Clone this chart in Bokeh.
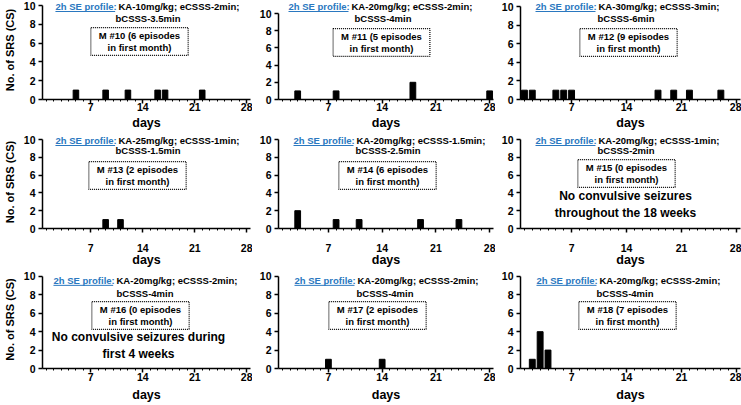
from bokeh.plotting import figure
from bokeh.layouts import gridplot
from bokeh.models import Range1d, FixedTicker, Label, ColumnDataSource
from bokeh.embed import file_html
from bokeh.resources import INLINE

# ---------------- data ----------------
mouse_ids = ["10", "11", "12", "13", "14", "15", "16", "17", "18"]
episodes = [6, 5, 9, 2, 6, 0, 0, 2, 7]
profile_line1 = [
    "KA-10mg/kg; eCSSS-2min;",
    "KA-20mg/kg; eCSSS-2min;",
    "KA-30mg/kg; eCSSS-3min;",
    "KA-25mg/kg; eCSSS-1min;",
    "KA-20mg/kg; eCSSS-1.5min;",
    "KA-20mg/kg; eCSSS-1min;",
    "KA-20mg/kg; eCSSS-2min;",
    "KA-20mg/kg; eCSSS-2min;",
    "KA-20mg/kg; eCSSS-2min;",
]
profile_line2 = [
    "bCSSS-3.5min", "bCSSS-4min", "bCSSS-6min",
    "bCSSS-1.5min", "bCSSS-2.5min", "bCSSS-2min",
    "bCSSS-4min", "bCSSS-4min", "bCSSS-4min",
]
m10_days = [5, 9, 12, 16, 17, 22]
m10_srs = [1, 1, 1, 1, 1, 1]
m11_days = [3, 8, 18, 28]
m11_srs = [1, 1, 2, 1]
m12_days = [1, 2, 5, 6, 7, 18, 20, 22, 26]
m12_srs = [1, 1, 1, 1, 1, 1, 1, 1, 1]
m13_days = [9, 11]
m13_srs = [1, 1]
m14_days = [3, 8, 11, 19, 24]
m14_srs = [2, 1, 1, 1, 1]
m15_days = []
m15_srs = []
m16_days = []
m16_srs = []
m17_days = [7, 14]
m17_srs = [1, 1]
m18_days = [2, 3, 4]
m18_srs = [1, 4, 2]
all_days = [m10_days, m11_days, m12_days, m13_days, m14_days, m15_days, m16_days, m17_days, m18_days]
all_srs = [m10_srs, m11_srs, m12_srs, m13_srs, m14_srs, m15_srs, m16_srs, m17_srs, m18_srs]
notes = {5: "No convulsive seizures\nthroughout the 18 weeks",
         6: "No convulsive seizures during\nfirst 4 weeks"}
x_ticks = [7, 14, 21, 28]
y_ticks = [0, 2, 4, 6, 8, 10]

# ---------------- layout constants (pixels) ----------------
FONT = "Liberation Sans"
BLUE = "#2a78c0"
col_w = [252, 243, 246]
col_left = [41, 26, 25]
col_right = [2, 2, 1]
row_h = [135, 135, 134]
row_bottom = [36, 42, 35]
y10_px = [5, 13, 6, 4, 4, 4, 6, 6, 6]          # top of y axis below panel top
tick_standoff = [-1, 11, 0]
xlabel_standoff = [2, -2, 4]
hdr_x = [13, 10, 15, 13, 15, 15, 11, 16, 16]   # from y axis
l2_x = [73, 76, 77, 73, 77, 77, 74, 78, 76]
hdr_y = [6, 5, 10]                             # from panel top
l2_y = [18, 15, 23]
box_cx = [97, 103, 108, 95, 109, 106, 98, 99, 107]
box_cy = [41, 42, 42, 40, 40, 38, 45, 45, 45]
note_cx = {5: 105, 6: 96}
note_cy = {5: 69, 6: 75}
X0, X1 = 0.5, 28.5

figs = []
for i in range(9):
    r, c = divmod(i, 3)
    w, h = col_w[c], row_h[r]
    frame_w = w - col_left[c] - col_right[c]
    frame_h = h - row_bottom[r]
    ppd = frame_w / (X1 - X0)
    ppu = (frame_h - y10_px[i]) / 10.0
    ymax = 10 + y10_px[i] / ppu

    p = figure(width=w, height=h, output_backend="svg", toolbar_location=None,
               x_range=Range1d(X0, X1), y_range=Range1d(0, ymax))
    p.min_border = 0
    p.min_border_left = col_left[c]
    p.min_border_right = col_right[c]
    p.min_border_top = 0
    p.min_border_bottom = row_bottom[r]
    p.outline_line_color = None
    p.xgrid.visible = False
    p.ygrid.visible = False
    p.background_fill_color = "white"
    p.border_fill_color = "white"

    for ax in (p.xaxis[0], p.yaxis[0]):
        ax.axis_line_width = 1.5
        ax.axis_line_color = "black"
        ax.major_tick_line_width = 1.5
        ax.major_tick_line_color = "black"
        ax.major_tick_in = 0
        ax.major_tick_out = 4
        ax.minor_tick_in = 0
        ax.minor_tick_out = 2
        ax.minor_tick_line_width = 1
        ax.minor_tick_line_color = "black"
        ax.major_label_text_font = FONT
        ax.major_label_text_font_style = "bold"
        ax.major_label_text_font_size = "10.5px"
        ax.major_label_text_color = "black"
        ax.axis_label_text_font = FONT
        ax.axis_label_text_font_style = "bold"
        ax.axis_label_text_color = "black"

    p.yaxis.bounds = (0, 10)
    p.xaxis.ticker = FixedTicker(ticks=x_ticks, minor_ticks=list(range(1, 29)))
    p.yaxis.ticker = FixedTicker(ticks=y_ticks)
    p.xaxis.major_label_standoff = tick_standoff[r]
    p.yaxis.major_label_standoff = 3
    p.xaxis.axis_label = "days"
    p.xaxis.axis_label_text_font_size = "12.5px"
    p.xaxis.axis_label_standoff = xlabel_standoff[r]
    if c == 0:
        p.yaxis.axis_label = "No. of SRS (CS)"
        p.yaxis.axis_label_text_font_size = "11px"
        p.yaxis.axis_label_standoff = 5

    src = ColumnDataSource(dict(day=all_days[i], srs=all_srs[i]))
    p.vbar(x="day", top="srs", width=0.75, source=src,
           fill_color="black", line_color="black")

    # header line 1
    p.add_layout(Label(x=X0, y=ymax, x_offset=hdr_x[i], y_offset=-hdr_y[r],
                       text="2h SE profile:", text_color=BLUE, text_font=FONT,
                       text_font_style="bold", text_font_size="9.5px",
                       text_align="left", text_baseline="middle"))
    p.add_layout(Label(x=X0, y=ymax, x_offset=hdr_x[i] + 63, y_offset=-hdr_y[r],
                       text=profile_line1[i], text_color="black", text_font=FONT,
                       text_font_style="bold", text_font_size="9.5px",
                       text_align="left", text_baseline="middle"))
    # underline of "2h SE profile:"
    ux0 = X0 + hdr_x[i] / ppd
    ux1 = X0 + (hdr_x[i] + 60) / ppd
    uy = ymax - (hdr_y[r] + 5) / ppu
    p.segment(x0=[ux0], y0=[uy], x1=[ux1], y1=[uy], line_color=BLUE, line_width=1)
    # header line 2
    p.add_layout(Label(x=X0, y=ymax, x_offset=l2_x[i], y_offset=-l2_y[r],
                       text=profile_line2[i], text_color="black", text_font=FONT,
                       text_font_style="bold", text_font_size="9.5px",
                       text_align="left", text_baseline="middle"))
    # dotted box
    p.add_layout(Label(x=X0, y=ymax, x_offset=box_cx[i], y_offset=-box_cy[i],
                       text=f"M #{mouse_ids[i]} ({episodes[i]} episodes\nin first month)",
                       text_color="black", text_font=FONT, text_font_style="bold",
                       text_font_size="9.5px", text_align="center",
                       text_baseline="middle", text_line_height=1.15,
                       border_line_color="black", border_line_dash="1 1",
                       border_line_width=1.2,
                       padding=dict(left=8, right=8, top=2, bottom=2)))
    if i in notes:
        p.add_layout(Label(x=X0, y=ymax, x_offset=note_cx[i], y_offset=-note_cy[i],
                           text=notes[i], text_color="black", text_font=FONT,
                           text_font_style="bold", text_font_size="12px",
                           text_align="center", text_baseline="middle",
                           text_line_height=1.15))
    figs.append(p)

grid = gridplot([figs[0:3], figs[3:6], figs[6:9]], toolbar_location=None)

open("out.html", "w").write(file_html(grid, INLINE))
